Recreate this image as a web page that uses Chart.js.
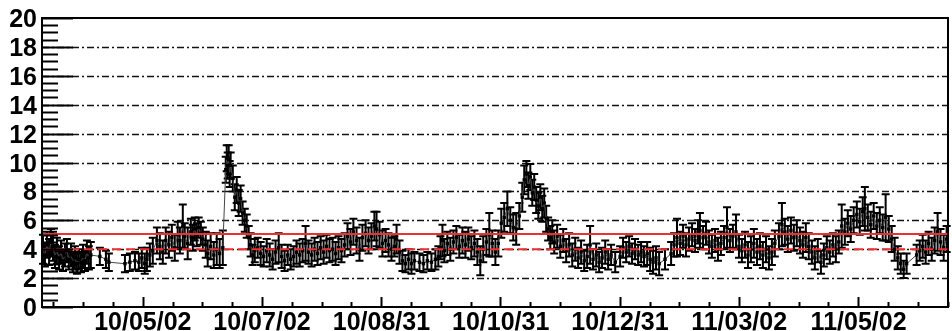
<!DOCTYPE html>
<html>
<head>
<meta charset="utf-8">
<script src="https://cdn.jsdelivr.net/npm/chart.js@4.4.0/dist/chart.umd.min.js"></script>
<style>
  html, body { margin: 0; padding: 0; background: #fff; }
  canvas { display: block; }
</style>
</head>
<body>
<canvas id="rateChart" width="952" height="331"></canvas>
<script>
// days counted from 2010/03/12 (left edge of the axis)
const days = [
  0.5, 1.5, 2.5, 3.6, 4.6, 5.6, 6.6, 7.6, 8.7, 9.7,
  10.7, 11.7, 12.7, 13.7, 14.8, 15.8, 16.8, 17.8, 18.8, 19.9,
  20.9, 21.9, 22.9, 23.9, 24.9, 29.5, 32.6, 34.1, 42.3, 44.8,
  47.4, 49.4, 50.9, 52.4, 53.5, 55.0, 56.5, 58.6, 60.1, 61.6,
  63.1, 64.7, 66.2, 67.7, 69.2, 70.3, 71.8, 72.8, 74.3, 75.9,
  76.9, 77.9, 78.9, 79.9, 81.0, 82.0, 83.5, 84.5, 86.0, 87.6,
  89.1, 90.6, 92.2, 93.7, 94.2, 94.7, 95.2, 95.7, 96.2, 97.3,
  98.3, 99.3, 100.3, 101.3, 102.3, 103.4, 104.4, 105.4, 106.4, 107.4,
  108.5, 110.0, 111.5, 113.0, 114.6, 116.1, 117.6, 119.1, 120.7, 122.2,
  123.7, 125.3, 126.8, 128.3, 129.8, 131.4, 132.9, 134.4, 135.9, 137.5,
  139.0, 140.5, 142.1, 143.6, 145.1, 146.6, 148.2, 149.7, 151.2, 152.7,
  154.3, 155.8, 157.3, 158.8, 160.4, 161.9, 163.4, 165.0, 166.5, 168.0,
  169.5, 170.6, 172.1, 173.6, 175.2, 176.7, 178.2, 179.7, 180.8, 182.3,
  183.8, 185.3, 186.9, 188.4, 189.9, 192.5, 194.5, 196.5, 198.6, 200.6,
  202.1, 203.2, 204.2, 205.2, 206.7, 208.2, 209.8, 211.3, 212.8, 214.4,
  215.9, 217.4, 218.9, 220.5, 222.0, 223.5, 225.0, 226.6, 228.1, 229.6,
  231.2, 232.7, 234.2, 235.7, 237.3, 238.8, 240.3, 241.8, 243.4, 244.9,
  245.9, 247.0, 248.0, 249.0, 250.0, 251.0, 252.0, 253.1, 254.1, 255.1,
  256.1, 257.1, 258.1, 259.2, 260.2, 261.2, 262.7, 264.3, 265.8, 267.3,
  268.8, 270.4, 271.9, 273.4, 274.9, 276.5, 278.0, 279.5, 281.0, 282.6,
  284.1, 285.6, 287.2, 288.7, 290.2, 292.3, 294.8, 296.3, 297.9, 299.4,
  300.9, 302.4, 304.0, 305.5, 307.0, 308.6, 310.1, 311.6, 313.1, 314.7,
  317.7, 320.8, 322.3, 323.8, 325.4, 326.9, 328.4, 329.9, 331.5, 333.0,
  334.5, 335.5, 337.1, 338.6, 340.1, 341.6, 343.2, 344.7, 346.2, 347.8,
  349.3, 350.8, 352.3, 353.9, 355.4, 356.9, 358.5, 360.0, 361.5, 363.0,
  364.6, 366.1, 367.6, 369.2, 370.7, 372.2, 373.7, 375.8, 377.3, 378.8,
  380.3, 381.9, 383.4, 384.9, 386.5, 388.0, 389.5, 391.0, 392.6, 394.1,
  395.6, 397.2, 398.7, 400.2, 401.7, 403.3, 404.8, 406.3, 407.8, 409.4,
  410.9, 412.4, 413.9, 415.5, 417.0, 418.5, 419.6, 421.1, 422.6, 424.1,
  425.7, 427.2, 428.7, 430.2, 431.8, 433.3, 434.8, 436.4, 437.9, 439.4,
  440.9, 446.0, 447.6, 449.1, 450.6, 452.1, 453.7, 455.2, 456.7, 458.2,
  459.8, 461.3
];

const rates = [
  4.0, 3.6, 4.3, 3.8, 4.5, 4.2, 3.5, 3.9, 3.4, 3.8,
  3.2, 3.6, 3.9, 3.3, 3.6, 3.1, 3.4, 3.0, 3.3, 3.1,
  3.5, 3.2, 3.8, 3.4, 3.6, 3.5, 3.3, 3.1, 3.0, 3.1,
  3.2, 3.1, 3.4, 3.0, 3.3, 3.6, 3.9, 4.6, 4.2, 3.8,
  4.6, 4.3, 4.8, 4.1, 5.0, 4.6, 5.6, 4.9, 4.4, 5.2,
  4.8, 5.4, 5.0, 5.5, 5.1, 4.7, 4.3, 3.7, 4.2, 3.6,
  4.0, 3.7, 4.1, 9.5, 10.3, 9.8, 10.2, 9.2, 9.8, 8.9,
  7.6, 8.1, 7.2, 7.5, 6.5, 6.0, 5.6, 4.8, 4.3, 3.6,
  3.9, 4.1, 3.7, 3.5, 3.9, 3.6, 3.3, 3.8, 4.1, 3.5,
  3.2, 3.6, 3.3, 3.5, 3.8, 3.6, 3.9, 4.4, 3.8, 3.6,
  4.0, 3.7, 4.1, 3.8, 4.2, 3.9, 4.0, 3.7, 4.1, 3.9,
  4.3, 4.9, 4.5, 5.2, 4.6, 4.0, 4.8, 5.1, 4.6, 4.9,
  5.6, 5.4, 5.0, 4.4, 4.6, 4.3, 4.0, 4.2, 4.7, 3.8,
  3.2, 3.0, 3.3, 3.0, 3.2, 3.1, 3.0, 3.2, 3.1, 3.3,
  3.5, 4.1, 4.6, 3.9, 4.4, 4.0, 4.5, 4.8, 4.2, 4.6,
  4.3, 4.7, 4.1, 4.4, 3.8, 3.2, 4.0, 4.5, 5.0, 4.4,
  3.8, 4.4, 5.8, 6.2, 6.8, 6.0, 5.5, 5.4, 6.3, 7.6,
  8.8, 9.2, 8.4, 9.0, 7.9, 8.3, 7.4, 7.0, 7.6, 6.8,
  7.2, 6.1, 5.4, 4.8, 5.2, 4.5, 4.9, 4.2, 4.6, 3.9,
  4.3, 3.6, 4.0, 3.4, 3.8, 3.2, 3.5, 4.3, 3.3, 3.6,
  3.1, 3.4, 3.8, 3.3, 3.6, 3.1, 3.5, 4.1, 3.8, 4.2,
  3.7, 4.0, 3.6, 3.8, 3.5, 3.7, 3.3, 3.1, 3.4, 3.0,
  3.3, 3.7, 4.3, 4.8, 4.4, 4.9, 4.3, 4.7, 5.0, 4.6,
  5.2, 5.3, 4.8, 5.1, 4.5, 4.2, 4.6, 4.0, 4.4, 4.8,
  5.5, 4.6, 4.9, 5.2, 4.2, 3.9, 4.3, 3.6, 4.0, 4.4,
  3.8, 4.2, 3.6, 4.0, 3.4, 3.8, 4.4, 4.9, 5.7, 5.2,
  4.7, 5.3, 4.8, 5.1, 4.6, 4.3, 4.8, 4.2, 3.8, 3.4,
  3.9, 3.1, 3.6, 4.1, 3.8, 4.3, 4.0, 4.5, 5.6, 5.2,
  5.8, 5.4, 6.0, 6.4, 5.9, 6.6, 6.8, 6.2, 5.7, 6.3,
  5.6, 6.0, 5.5, 6.2, 5.4, 4.7, 4.0, 3.4, 3.0, 2.6,
  3.0, 3.6, 3.9, 4.2, 3.8, 4.4, 4.0, 4.6, 5.2, 4.5,
  4.1, 4.7
];

const errs = [
  1.0, 0.8, 0.9, 0.9, 0.9, 1.0, 0.8, 0.9, 0.8, 0.8,
  0.7, 0.8, 0.8, 0.7, 0.8, 0.7, 0.8, 0.7, 0.7, 0.7,
  0.8, 0.7, 0.8, 0.8, 0.9, 0.6, 0.6, 0.6, 0.6, 0.6,
  0.6, 0.6, 0.7, 0.7, 0.8, 0.8, 0.9, 0.9, 0.9, 0.8,
  0.9, 0.9, 0.9, 0.9, 0.9, 0.9, 1.5, 0.9, 1.1, 0.9,
  0.9, 0.8, 0.8, 0.7, 0.8, 0.8, 0.9, 0.9, 0.9, 0.9,
  1.1, 1.0, 1.2, 0.9, 0.9, 0.9, 1.0, 0.9, 0.9, 0.9,
  0.9, 0.9, 0.9, 0.9, 0.8, 0.8, 0.8, 0.8, 0.8, 0.7,
  0.8, 0.7, 0.8, 0.7, 0.8, 0.8, 0.7, 0.8, 1.0, 0.8,
  0.7, 0.7, 0.7, 0.7, 0.8, 0.8, 0.8, 1.2, 0.8, 0.8,
  0.8, 0.8, 0.8, 0.8, 0.8, 0.8, 0.8, 0.8, 0.8, 0.8,
  0.8, 0.9, 0.9, 0.9, 0.9, 0.8, 0.9, 0.9, 0.9, 0.9,
  1.0, 1.2, 0.9, 0.9, 0.8, 0.8, 0.8, 0.7, 1.0, 0.8,
  0.7, 0.6, 0.7, 0.7, 0.6, 0.6, 0.6, 0.6, 0.6, 0.7,
  0.7, 0.8, 1.1, 0.8, 0.8, 0.8, 0.8, 0.8, 0.8, 0.9,
  0.9, 0.8, 0.8, 0.9, 0.9, 1.0, 0.9, 0.9, 1.5, 0.9,
  0.9, 0.9, 1.0, 1.0, 1.2, 0.9, 0.9, 1.1, 0.9, 1.0,
  1.0, 0.9, 0.9, 0.9, 0.9, 0.9, 0.9, 0.9, 0.9, 0.9,
  1.0, 0.9, 0.8, 0.8, 0.8, 0.8, 0.8, 0.8, 0.8, 0.8,
  0.8, 0.8, 0.8, 0.7, 0.8, 0.7, 0.8, 1.3, 0.7, 0.8,
  0.7, 0.7, 0.8, 0.7, 0.7, 0.7, 0.7, 0.7, 0.7, 0.7,
  0.7, 0.7, 0.7, 0.7, 0.7, 0.8, 0.8, 0.8, 0.8, 0.8,
  0.7, 0.8, 0.8, 1.3, 0.8, 0.8, 0.8, 0.8, 0.8, 0.8,
  0.8, 1.2, 0.8, 0.8, 0.8, 0.8, 0.8, 0.8, 0.8, 0.8,
  1.4, 0.8, 0.8, 1.2, 0.8, 0.8, 0.9, 0.9, 0.9, 1.0,
  0.9, 0.9, 0.9, 0.9, 0.8, 0.9, 0.9, 0.9, 1.5, 0.9,
  0.9, 0.9, 0.9, 0.9, 0.9, 0.9, 1.0, 0.9, 0.8, 0.8,
  0.8, 0.8, 0.8, 0.8, 0.8, 0.8, 0.9, 0.8, 1.5, 0.9,
  0.9, 0.9, 0.9, 0.9, 0.9, 1.0, 1.5, 0.9, 0.9, 0.9,
  0.9, 0.9, 0.9, 1.6, 0.9, 0.9, 0.8, 0.8, 0.7, 0.6,
  0.7, 0.7, 0.7, 0.8, 0.8, 0.8, 0.8, 0.9, 1.3, 0.9,
  0.9, 0.9
];

// time axis labels (ROOT style yy/mm/dd) and where they sit, in days
const tickLabels = ['10/05/02', '10/07/02', '10/08/31', '10/10/31', '10/12/31', '11/03/02', '11/05/02'];
const tickDays = [51.4, 112.2, 173.1, 233.9, 294.7, 355.5, 416.4];
const dayRange = [0, 462];
const yRange = [0, 20];

// reference levels
const meanLevel = 5.05;
const lowLevel = 4.0;

const FONT = 'bold 25px "Liberation Sans", Arial, sans-serif';

// ROOT-like frame, grid, ticks and error bars
const rootStyle = {
  id: 'rootStyle',
  beforeDatasetsDraw(chart) {
    const { ctx, chartArea: a, scales: { x, y } } = chart;
    ctx.save();
    // dash-dot grid lines
    ctx.strokeStyle = '#111';
    ctx.lineWidth = 1.6;
    ctx.setLineDash([7, 3, 2, 3]);
    for (let v = 2; v < yRange[1]; v += 2) {
      const py = Math.round(y.getPixelForValue(v)) + 0.5;
      ctx.beginPath();
      ctx.moveTo(a.left, py);
      ctx.lineTo(a.right, py);
      ctx.stroke();
    }
    ctx.setLineDash([]);
    // error bars
    ctx.strokeStyle = '#000';
    ctx.lineWidth = 2;
    for (let i = 0; i < days.length; i++) {
      const px = x.getPixelForValue(days[i]);
      const top = y.getPixelForValue(rates[i] + errs[i]);
      const bot = y.getPixelForValue(rates[i] - errs[i]);
      ctx.beginPath();
      ctx.moveTo(px, top);
      ctx.lineTo(px, bot);
      ctx.moveTo(px - 4, top);
      ctx.lineTo(px + 4, top);
      ctx.moveTo(px - 4, bot);
      ctx.lineTo(px + 4, bot);
      ctx.stroke();
    }
    ctx.restore();
  },
  afterDatasetsDraw(chart) {
    const { ctx, chartArea: a, scales: { x, y } } = chart;
    ctx.save();
    ctx.strokeStyle = '#000';
    // y ticks, every 0.5, major every 2
    ctx.lineWidth = 2;
    for (let v = yRange[0]; v <= yRange[1]; v += 0.5) {
      const py = Math.round(y.getPixelForValue(v)) + 0.5;
      const len = v % 2 === 0 ? 31 : 16;
      ctx.beginPath();
      ctx.moveTo(a.left, py);
      ctx.lineTo(a.left + len, py);
      ctx.stroke();
    }
    // x ticks, 4 divisions between labelled ticks
    const step = (tickDays[1] - tickDays[0]) / 4;
    for (let d = tickDays[0] - 3 * step; d < dayRange[1]; d += step) {
      if (d < dayRange[0]) continue;
      const px = Math.round(x.getPixelForValue(d)) + 0.5;
      const major = tickDays.some(t => Math.abs(t - d) < 0.5);
      ctx.beginPath();
      ctx.moveTo(px, a.bottom);
      ctx.lineTo(px, a.bottom - (major ? 10 : 5));
      ctx.stroke();
    }
    // frame
    ctx.lineWidth = 2;
    ctx.strokeRect(a.left, a.top, a.right - a.left, a.bottom - a.top);
    // labels
    ctx.fillStyle = '#000';
    ctx.font = FONT;
    ctx.textAlign = 'right';
    ctx.textBaseline = 'alphabetic';
    for (let v = yRange[0]; v <= yRange[1]; v += 2) {
      ctx.fillText(String(v), a.left - 5, y.getPixelForValue(v) + 9);
    }
    ctx.textAlign = 'center';
    tickDays.forEach((d, i) => {
      ctx.fillText(tickLabels[i], x.getPixelForValue(d), a.bottom + 23);
    });
    ctx.restore();
  }
};

const ctx = document.getElementById('rateChart').getContext('2d');
const chart = new Chart(ctx, {
  type: 'line',
  data: {
    datasets: [
      {
        data: [{ x: dayRange[0], y: meanLevel }, { x: dayRange[1], y: meanLevel }],
        borderColor: '#f03030',
        borderWidth: 2,
        pointRadius: 0,
      },
      {
        data: [{ x: dayRange[0], y: lowLevel }, { x: dayRange[1], y: lowLevel }],
        borderColor: '#f03030',
        borderWidth: 2,
        borderDash: [9, 5],
        pointRadius: 0,
      },
      {
        data: days.map((d, i) => ({ x: d, y: rates[i] })),
        borderColor: '#444',
        borderWidth: 1,
        pointStyle: 'rect',
        pointRadius: 2.4,
        pointBackgroundColor: '#000',
        pointBorderColor: '#000',
        pointBorderWidth: 0,
        tension: 0,
      },
    ],
  },
  options: {
    responsive: false,
    animation: false,
    devicePixelRatio: 1,
    layout: { padding: { left: 42, right: 2, top: 18, bottom: 24 } },
    plugins: { legend: { display: false }, tooltip: { enabled: false } },
    scales: {
      x: { type: 'linear', display: false, min: dayRange[0], max: dayRange[1] },
      y: { type: 'linear', display: false, min: yRange[0], max: yRange[1] },
    },
  },
  plugins: [rootStyle],
});
</script>
</body>
</html>
